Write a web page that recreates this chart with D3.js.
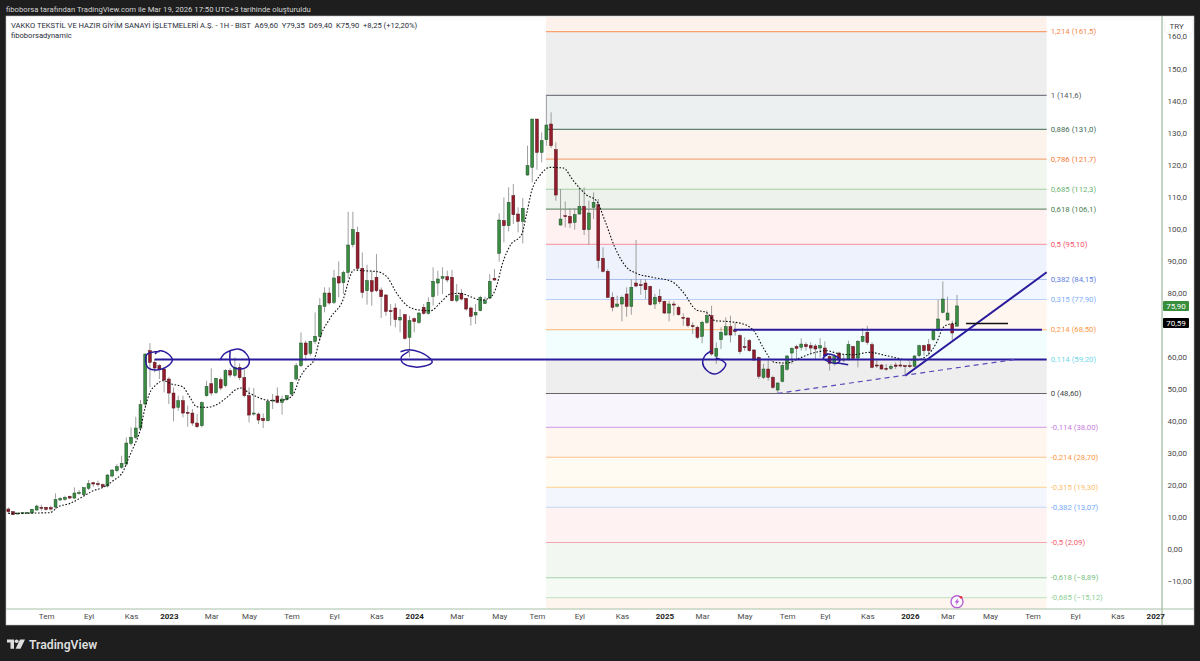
<!DOCTYPE html>
<html><head><meta charset="utf-8"><title>VAKKO</title>
<script src="https://cdn.jsdelivr.net/npm/d3@7"></script>
<style>html,body{margin:0;padding:0;background:#1e1e1e}svg{display:block}text{font-family:Roboto,"Noto Sans",sans-serif}</style>
</head><body><div id="chart"></div>
<script>
const opens=[12.53,11.7,10.97,11.08,11.18,11.28,12.22,13.05,13.05,12.95,13.15,15.34,15.55,16.48,15.96,17.52,17.0,18.98,20.75,20.43,20.12,19.71,22.83,24.49,25.53,26.57,33.02,34.89,37.8,45.29,61.93,58.29,57.25,56.21,53.09,48.72,44.25,46.33,42.69,42.48,39.36,38.53,47.89,51.63,48.83,52.88,51.01,55.69,54.23,56.73,53.51,47.89,42.17,42.17,40.82,40.09,46.33,47.79,45.81,46.64,48.41,53.09,
57.26,64.33,61.11,64.85,66.41,75.77,79.93,77.0,85.03,83.16,86.38,95.01,98.86,87.63,80.66,83.78,84.82,80.87,79.31,74.42,75.25,71.51,73.17,66.1,71.92,70.78,75.46,73.59,78.79,83.05,84.51,85.03,84.82,77.54,79.83,78.27,75.25,73.07,74.42,76.71,78.37,84.51,92.31,102.5,100.94,110.3,104.58,102.29,
116.75,119.14,134.22,123.82,127.77,132.66,124.65,101.15,104.06,103.85,101.98,104.58,106.97,99.69,106.66,107.49,90.75,86.69,78.58,75.77,76.5,79.62,75.77,83.05,82.53,83.05,82.01,76.5,78.89,77.33,73.69,76.5,75.46,
72.34,72.13,69.74,69.22,66.41,70.78,72.86,60.17,65.37,66.83,69.43,68.2,66.62,63.19,65.06,62.15,59.86,53.62,56.22,53.62,49.67,52.37,56.12,61.21,63.19,62.98,63.81,63.5,63.4,62.77,62.77,60.07,57.99,61.21,59.34,59.13,63.19,59.65,64.85,67.66,63.81,57.47,57.47,56.43,56.43,57.47,57.47,57.26,57.26,57.05,60.38,63.5,63.81,65.37,68.18,73.9,71.51,70.26,69.6];
const highs=[13.05,11.91,11.39,11.5,11.6,12.64,13.88,13.88,13.26,13.57,17.42,16.17,16.69,16.69,19.29,18.46,19.29,21.58,20.85,21.37,20.54,23.45,25.0,26.57,29.17,34.89,38.0,41.34,46.54,61.1,64.32,59.33,57.77,56.73,53.61,50.49,47.89,47.89,44.77,43.73,42.17,46.12,52.57,56.42,53.4,53.61,56.21,56.52,59.85,57.98,56.21,50.49,50.28,42.69,42.38,46.33,48.41,50.49,47.89,48.1,52.26,58.08,
67.66,65.06,65.06,73.9,78.37,81.7,81.7,87.11,89.81,86.9,105.3,105.3,100.63,92.62,88.77,86.9,92.1,81.7,79.62,76.5,76.71,74.94,73.38,72.86,72.34,73.9,76.5,78.58,87.94,86.9,87.94,86.9,87.11,82.74,81.18,78.37,75.67,76.5,79.1,78.79,85.86,87.42,104.79,109.78,112.9,113.94,106.66,109.57,
125.9,134.22,134.22,130.06,141.6,136.3,126.94,112.38,108.53,106.45,106.45,112.9,112.9,108.74,111.34,109.26,94.18,87.42,80.14,79.1,79.1,81.7,84.3,96.47,84.3,84.3,82.22,79.62,81.18,77.54,77.54,77.33,75.98,
73.59,72.34,70.78,69.74,71.3,74.42,75.98,64.54,69.22,72.34,72.86,70.78,67.14,66.1,65.58,62.46,60.07,57.78,59.03,54.14,52.06,57.78,60.59,62.98,63.81,65.79,64.54,64.54,64.02,65.79,64.85,60.9,60.9,61.63,60.9,65.06,63.5,65.27,69.01,69.74,64.54,59.34,57.78,57.78,57.78,58.3,59.34,57.47,58.61,60.59,63.81,63.81,65.58,68.7,77.85,83.57,78.79,71.3,79.35];
const lows=[11.18,10.66,10.87,10.97,11.08,11.07,12.01,12.01,12.01,12.01,12.53,15.13,15.13,15.65,15.65,17.0,16.69,18.46,19.5,19.5,19.08,19.29,22.4,23.97,25.0,26.05,32.29,34.37,36.97,44.77,50.49,55.17,53.09,48.93,45.29,39.88,43.21,41.13,38.22,38.53,37.8,38.01,47.58,47.89,48.41,49.66,50.49,53.61,53.61,52.78,47.37,39.57,41.65,39.05,37.8,39.88,43.73,45.5,41.96,46.33,47.89,52.57,
56.74,58.82,60.38,64.02,65.06,73.9,76.29,76.5,78.58,79.62,84.61,94.18,86.9,78.37,76.29,75.98,80.14,72.13,72.86,69.74,69.22,67.66,65.37,59.86,67.66,70.26,73.17,73.17,75.98,79.1,79.62,83.26,77.33,77.02,77.54,74.42,69.74,70.26,74.21,76.5,78.06,83.78,89.71,95.74,99.17,101.46,98.86,95.43,
116.54,114.46,118.41,120.7,125.9,125.17,108.74,100.94,100.42,100.21,99.69,104.37,98.03,94.91,103.02,87.63,86.38,78.37,74.21,75.46,71.09,72.55,73.17,81.7,79.41,78.06,75.98,74.94,76.5,73.38,71.09,72.86,72.86,
69.74,69.22,67.14,65.58,64.23,70.26,60.38,57.78,62.46,66.62,64.54,66.62,60.9,61.94,61.63,58.82,53.1,53.1,52.58,49.98,48.6,52.06,55.7,57.78,59.34,61.94,61.94,60.9,59.34,59.86,59.65,55.7,57.26,58.82,58.3,58.82,59.34,56.74,64.54,63.81,56.43,56.53,56.01,55.7,55.91,56.22,56.74,54.66,56.53,56.74,59.86,60.38,60.38,65.06,67.97,73.59,71.3,65.27,69.4];
const closes=[11.7,10.76,11.28,11.39,11.49,12.43,13.46,12.74,12.43,12.53,15.44,15.86,16.17,15.96,17.52,17.73,19.19,20.43,20.33,20.12,19.5,23.14,24.7,25.74,26.78,33.12,34.89,37.8,45.08,60.89,58.29,56.52,56.21,52.78,48.72,44.04,46.33,42.48,42.48,39.36,38.22,45.71,50.8,48.72,53.3,50.28,55.69,54.34,56.73,53.51,47.89,41.86,42.48,40.3,40.09,46.02,46.54,45.81,46.85,47.89,52.05,57.25,
64.33,60.69,64.85,66.41,75.98,79.93,76.81,84.61,83.05,86.28,94.91,99.69,87.63,80.14,83.78,80.45,80.66,78.79,74.21,74.21,71.61,72.34,65.79,71.3,71.0,73.69,73.59,77.02,83.57,84.3,85.03,83.99,77.54,79.1,78.06,74.94,72.65,73.9,78.58,77.54,83.57,83.99,102.71,100.94,108.22,104.37,102.29,106.35,
119.66,134.22,123.82,127.46,132.35,125.9,110.51,103.02,103.85,101.77,104.37,106.97,99.69,104.89,108.22,90.02,86.69,78.58,75.46,76.5,78.58,75.77,81.7,82.12,82.32,80.97,76.29,78.58,77.23,73.69,76.5,76.19,73.17,
72.13,69.74,69.43,66.1,70.78,72.86,60.9,62.67,67.66,69.43,66.83,68.0,61.63,62.98,61.94,59.03,53.93,56.22,53.62,50.5,51.85,57.26,60.28,62.67,62.67,64.02,63.19,62.77,62.46,63.5,60.38,57.99,60.07,59.03,59.03,63.81,59.55,64.85,66.41,64.54,56.74,57.16,56.22,56.22,57.05,57.05,57.26,56.95,56.95,60.28,63.5,61.94,61.94,68.18,71.82,78.06,73.69,67.45,75.9];

const maBars=[0,2.5,5.3,8.8,10.6,13.1,15.5,18,20.1,22.2,24.4,25.4,26.5,27.9,29,30,31.1,32.8,34.6,36.9,38.5,39.9,42,44.1,46.3,48.4,49.4,50.8,52.6,54.7,56.9,59,60.4,61.8,63.3,64.7,66.2,68.3,71.1,72.2,73.2,75.3,78.2,80.3,82.4,84.5,87,89.5,91.6,93.7,95.8,97.9,100.1,102,103.1,104.9,106.3,108.8,109.8,110.9,112.6,114.8,117.6,119.7,122.5,124.6,126.4,128.5,131,133.1,136.6,140.5,143,145.8,147.9,149.7,152.9,155.7,158.2,159.9,162.4,164.9,167.7,170.5,173.4,176.2,179,182.5,186.1,190.3,192.4,194.6,196.7,198.1,199.5,201];
const maValues=[11.18,11.18,11.28,11.39,13.26,14.3,16.17,18.25,19.29,21.37,24.49,28.13,31.77,36.97,44.25,48.93,51.01,52.57,51.53,50.7,47.37,44.46,44.25,45.08,47.37,49.97,50.28,48.93,47.58,46.54,46.33,46.85,48.41,53.61,56.74,58.82,66.62,72.34,78.58,84.3,87.11,86.9,86.59,84.82,79.62,75.98,74.63,74.42,77.02,79.62,79.83,78.79,77.75,78.37,80.66,90.02,94.7,98.34,104.58,111.86,116.54,119.14,118.93,114.98,110.51,108.74,102.5,94.18,87.94,86.07,84.82,83.57,80.14,74.63,73.9,71.3,70.99,70.26,67.66,62.98,58.3,58.09,59.65,61.21,61.94,60.9,60.69,61.42,60.38,59.13,59.03,60.38,64.54,69.22,70.26,70.5];

const fibRatios=["1,214","1","0,886","0,786","0,685","0,618","0,5","0,382","0,315","0,214","0,114","0","-0,114","-0,214","-0,315","-0,382","-0,5","-0,618","-0,685"];
const fibPrices=[161.5,141.6,131.0,121.7,112.3,106.1,95.10,84.15,77.90,68.50,59.20,48.60,38.00,28.70,19.30,13.07,2.09,-8.89,-15.12];
const fibPriceLabels=["161,5","141,6","131,0","121,7","112,3","106,1","95,10","84,15","77,90","68,50","59,20","48,60","38,00","28,70","19,30","13,07","2,09","−8,89","−15,12"];
const fibLineColors=["#f7a070","#787b86","#5f8072","#f5a97f","#a3cca3","#6f9375","#f5a3ad","#a9bdf0","#b8d0f7","#fbc48e","#b5ecf5","#666666","#d9aee8","#fbc48e","#fdd9a5","#c5d4f5","#f2a5ad","#a5d3a8","#c8e6c9"];
const fibLabelColors=["#f58a4b","#555a63","#3e6b58","#f57c38","#6fb573","#4d8052","#f4506a","#5f80e0","#80b0fa","#fb9a45","#6fd8ea","#444444","#c77fdb","#fb9a45","#fcc070","#78aafa","#f4606f","#7abf80","#8fd095"];
const fibBandColors=["#fdf2eb","#eeeeee","#ecf0f1","#fdf3ed","#f1f6ef","#edf2ed","#fff1f1","#eef2fc","#f2f6fe","#fff6f0","#f2fdfe","#eeeeee","#f9f5fc","#fff6f0","#fffbf3","#f3f6fd","#fff2f2","#f2f7f1","#f5faf5","#fff5ef"];
const fibBandEdges=[170,161.5,141.6,131.0,121.7,112.3,106.1,95.10,84.15,77.90,68.50,59.20,48.60,38.00,28.70,19.30,13.07,2.09,-8.89,-15.12,-18.6];
const fibStartBar=113.9, fibEndBar=220;

const yTicks=[160,150,140,130,120,110,100,90,80,70,60,50,40,30,20,10,0,-10];
const hiddenYTicks=[70];
const xTickBars=[8,17,26,34,43,51,60,69,78,86,95,104,112,121,130,139,147,156,165,173,182,191,199,208,217,226,235,243];
const xTickLabels=["Tem","Eyl","Kas","2023","Mar","May","Tem","Eyl","Kas","2024","Mar","May","Tem","Eyl","Kas","2025","Mar","May","Tem","Eyl","Kas","2026","Mar","May","Tem","Eyl","Kas","2027"];

const supportLine=[[31,59.2],[220,59.2]];
const resistLine=[[153.7,68.5],[219,68.5]];
const trendLine=[[190,54.1],[220,86.4]];
const dashedTrend=[[163,48.6],[213.3,59.2]];
const blackLine=[[202.9,70.4],[211.8,70.4]];
const circle1=[[31.07,60.9],[32.1,61.93],[33.9,60.9],[34.75,59.0],[33.9,57.25],[31.4,55.9],[29.7,56.5],[29.1,58.8],[29.45,60.9],[32.1,61.7]];
const circle2=[[44.85,59],[45.7,60.9],[47,61.93],[48.7,62.45],[50.35,61.1],[51.05,58.3],[50.1,56.5],[48,56.5],[47.1,57.8],[47,61.93]];
const circle3=[[83.1,61.63],[84.87,62.25],[87.34,61.42],[89.46,59.34],[89.8,58.3],[88.05,57.05],[85.2,57.05],[83.46,58.3],[83.25,59.86],[84.87,61.73]];
const circle4=[[149,61.94],[147.6,60.38],[147.1,58.3],[147.9,55.9],[149.7,54.66],[151.5,56.22],[152,57.78],[151.1,59.0],[149.9,59.65]];
const circle5=[[172.66,60.38],[173.7,60.9],[175.1,60.38],[176.2,59.03],[175.5,57.99],[173.7,58.6],[172.66,59.65],[173.7,60.9]];
const circle5Tail=[[175.5,58.2],[177.95,57.57]];

const titleText="VAKKO TEKSTİL VE HAZIR GİYİM SANAYİ İŞLETMELERİ A.Ş. - 1H - BIST  A69,60  Y79,35  D69,40  K75,90  +8,25 (+12,20%)";
const headerText="fiboborsa tarafından TradingView.com ile Mar 19, 2026 17:50 UTC+3 tarihinde oluşturuldu";

const W=1200,H=661;
const panel={l:6,t:16,r:1194,b:625}, axisX=1162, axisY=609;
const x=d3.scaleLinear().domain([0,201]).range([8.33,957]);
const y=d3.scaleLinear().domain([0,100]).range([549.2,228.7]);
const navy="#2a1a9c";

const svg=d3.select("#chart").append("svg").attr("width",W).attr("height",H).attr("viewBox",`0 0 ${W} ${H}`);
svg.append("rect").attr("width",W).attr("height",H).attr("fill","#1e1e1e");
svg.append("rect").attr("x",panel.l).attr("y",panel.t).attr("width",panel.r-panel.l).attr("height",panel.b-panel.t).attr("fill","#fff").attr("stroke","#bdbdbd").attr("stroke-width",0.6);
svg.append("text").attr("x",6).attr("y",11.8).attr("font-size",7.7).attr("fill","#d6d6d6").text(headerText);

const defs=svg.append("defs");
defs.append("clipPath").attr("id","plot").append("rect").attr("x",panel.l).attr("y",panel.t+1).attr("width",axisX-panel.l).attr("height",axisY-panel.t-1);
const plot=svg.append("g").attr("clip-path","url(#plot)");

// fib bands, lines, labels
plot.append("g").selectAll("rect").data(fibBandColors).join("rect")
  .attr("x",x(fibStartBar)).attr("width",x(fibEndBar)-x(fibStartBar))
  .attr("y",(d,i)=>y(fibBandEdges[i])).attr("height",(d,i)=>y(fibBandEdges[i+1])-y(fibBandEdges[i]))
  .attr("fill",d=>d);
plot.append("g").selectAll("line").data(fibPrices).join("line")
  .attr("x1",x(fibStartBar)).attr("x2",x(fibEndBar)).attr("y1",d=>y(d)).attr("y2",d=>y(d))
  .attr("stroke",(d,i)=>fibLineColors[i]).attr("stroke-width",1.1);
plot.append("g").selectAll("text").data(fibPrices).join("text")
  .attr("x",x(fibEndBar)+4).attr("y",d=>y(d)+2.7).attr("font-size",7.8)
  .attr("fill",(d,i)=>fibLabelColors[i]).text((d,i)=>`${fibRatios[i]} (${fibPriceLabels[i]})`);

const line=d3.line().x(d=>x(d[0])).y(d=>y(d[1]));
const scribble=d3.line().x(d=>x(d[0])).y(d=>y(d[1])).curve(d3.curveCatmullRom.alpha(0.5));
const draw=(pts,gen,color,w,dash)=>plot.append("path").attr("d",gen(pts)).attr("fill","none").attr("stroke",color).attr("stroke-width",w).attr("stroke-dasharray",dash||null);

// candles
const bars=d3.range(opens.length);
const up=i=>closes[i]>=opens[i];
const g=plot.append("g");
g.selectAll("line.w").data(bars).join("line").attr("class","w")
  .attr("x1",i=>x(i)).attr("x2",i=>x(i)).attr("y1",i=>y(highs[i])).attr("y2",i=>y(lows[i]))
  .attr("stroke","#8f8f8f").attr("stroke-width",0.85);
g.selectAll("rect.b").data(bars).join("rect").attr("class","b")
  .attr("x",i=>x(i)-1.45).attr("width",2.9)
  .attr("y",i=>y(Math.max(opens[i],closes[i])))
  .attr("height",i=>Math.max(1,Math.abs(y(opens[i])-y(closes[i]))))
  .attr("fill",i=>up(i)?"#3a8c43":"#941d2d")
  .attr("stroke",i=>up(i)?"#1d4a24":"#4f1018").attr("stroke-width",0.5);

// moving average
plot.append("path").datum(maBars.map((b,i)=>[b,maValues[i]]))
  .attr("d",d3.line().x(d=>x(d[0])).y(d=>y(d[1])).curve(d3.curveMonotoneX))
  .attr("fill","none").attr("stroke","#111").attr("stroke-width",1.1).attr("stroke-dasharray","1.6,1.7");

// drawings
draw(supportLine,line,navy,2);
draw(resistLine,line,navy,2);
draw(trendLine,line,navy,2);
draw(dashedTrend,line,"#5a4cb8",1.2,"5,4");
draw(blackLine,line,"#111",1.5);
[circle1,circle2,circle3,circle4,circle5].forEach(c=>draw(c,scribble,navy,1.5));
draw(circle5Tail,line,navy,1.5);

// event icon
const ev=svg.append("g").attr("transform",`translate(${x(201)},601.7)`);
ev.append("circle").attr("r",6).attr("fill","#fff").attr("stroke","#b85fd6").attr("stroke-width",1.4);
ev.append("path").attr("d","M1.2,-4 L-2.4,0.8 L-0.3,0.8 L-1.2,4 L2.4,-1 L0.3,-1 Z").attr("fill","#b85fd6");
ev.append("circle").attr("cx",4).attr("cy",-4.4).attr("r",1.4).attr("fill","#f23645");

// axes
const fmtY=v=>{const a=Math.abs(v);const s=(a>=100?a.toFixed(1):a.toFixed(2)).replace(".",",");return (v<0?"−":"")+s;};
const yAxis=d3.axisRight(y).tickValues(yTicks.filter(t=>!hiddenYTicks.includes(t))).tickSize(0).tickPadding(5.5).tickFormat(fmtY);
const ya=svg.append("g").attr("transform",`translate(${axisX},0)`).call(yAxis);
ya.select(".domain").remove();
ya.selectAll("text").attr("font-size",8).attr("fill","#4a4a4a").attr("font-family",'Roboto,"Noto Sans",sans-serif');
svg.append("line").attr("x1",axisX).attr("x2",axisX).attr("y1",panel.t).attr("y2",panel.b).attr("stroke","#86a886").attr("stroke-width",1);
svg.append("line").attr("x1",panel.l).attr("x2",panel.r).attr("y1",axisY).attr("y2",axisY).attr("stroke","#a5c0a5").attr("stroke-width",1);

const xAxis=d3.axisBottom(x).tickValues(xTickBars).tickSize(0).tickPadding(4.5).tickFormat((d,i)=>xTickLabels[i]);
const xa=svg.append("g").attr("transform",`translate(0,${axisY})`).call(xAxis);
xa.select(".domain").remove();
xa.selectAll("text").attr("font-size",8).attr("font-family",'Roboto,"Noto Sans",sans-serif')
  .attr("font-weight",(d,i)=>/^20/.test(xTickLabels[i])?700:400)
  .attr("fill",(d,i)=>/^20/.test(xTickLabels[i])?"#222":"#4a4a4a");

// title
svg.append("text").attr("x",11).attr("y",27.8).attr("font-size",7.6).attr("fill","#2a2e39").attr("xml:space","preserve").style("white-space","pre").text(titleText);
svg.append("text").attr("x",11).attr("y",38).attr("font-size",7.6).attr("fill","#2a2e39").text("fiboborsadynamic");

// currency box
svg.append("rect").attr("x",1165).attr("y",19).attr("width",28).attr("height",14).attr("rx",2).attr("fill","#fff").attr("stroke","#ececec").attr("stroke-width",0.7);
svg.append("text").attr("x",1176.7).attr("y",29).attr("text-anchor","middle").attr("font-size",8).attr("fill","#4a4a4a").text("TRY");

// price badges
const badge=(v,bg,txt)=>{const cy=y(v);
  svg.append("rect").attr("x",axisX+1).attr("y",cy-5).attr("width",26).attr("height",10).attr("rx",1).attr("fill",bg);
  svg.append("text").attr("x",axisX+14).attr("y",cy+2.9).attr("text-anchor","middle").attr("font-size",8).attr("fill","#fff").text(txt);};
badge(closes[closes.length-1],"#388e3c",fmtY(closes[closes.length-1]));
badge(70.59,"#000","70,59");

// logo
const logo=svg.append("g").attr("transform","translate(7,639.5) scale(1,0.85)").attr("fill","#dedede");
logo.append("path").attr("d","M0,0 H7 V11 H3.5 V3.6 H0 Z");
logo.append("circle").attr("cx",9.6).attr("cy",2).attr("r",2);
logo.append("path").attr("d","M13,0 H18 L13.5,11 H8.6 Z");
svg.append("text").attr("x",29).attr("y",648.5).attr("font-size",12.2).attr("font-weight",600).attr("fill","#dedede").attr("font-family",'Inter,"Open Sans",sans-serif').text("TradingView");
</script></body></html>
